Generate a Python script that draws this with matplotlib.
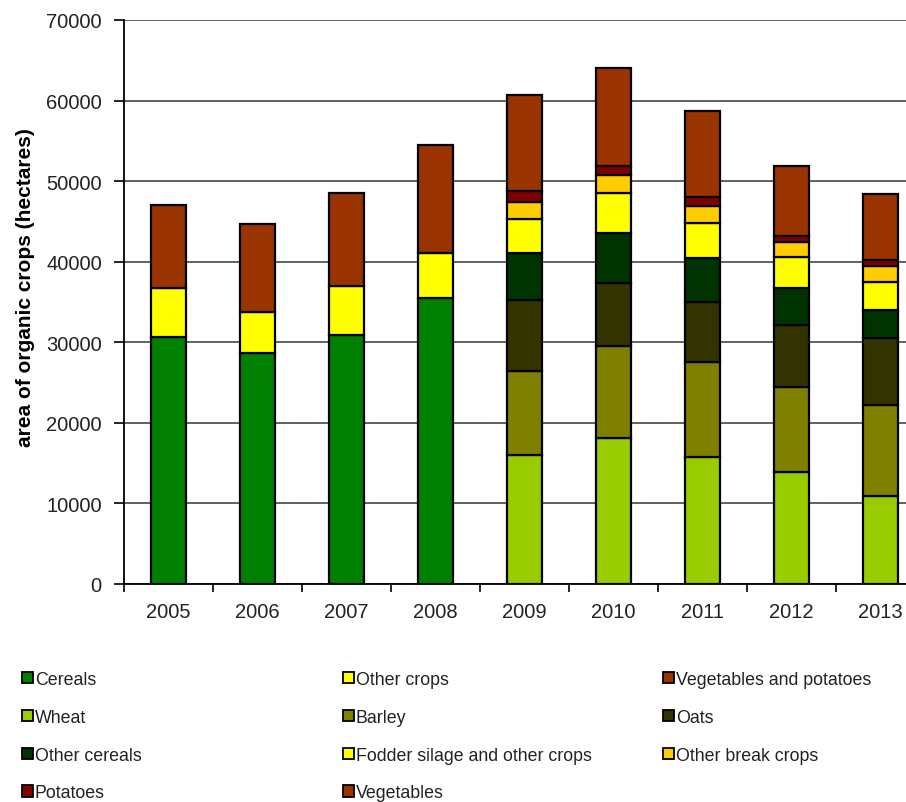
import matplotlib
matplotlib.use("Agg")
import matplotlib.pyplot as plt
from matplotlib.patches import Patch
import numpy as np

plt.rcParams['font.family'] = ['Liberation Sans', 'DejaVu Sans']

years = ["2005", "2006", "2007", "2008", "2009", "2010", "2011", "2012", "2013"]

# 2005-2008: broad categories
cereals = [30650, 28670, 30940, 35460, 0, 0, 0, 0, 0]
other_crops = [6050, 5130, 6050, 5620, 0, 0, 0, 0, 0]
veg_and_potatoes = [10380, 10880, 11500, 13410, 0, 0, 0, 0, 0]

# 2009-2013: detailed categories
wheat = [0, 0, 0, 0, 16050, 18120, 15720, 13860, 10960]
barley = [0, 0, 0, 0, 10350, 11460, 11800, 10630, 11260]
oats = [0, 0, 0, 0, 8890, 7740, 7440, 7610, 8270]
other_cereals = [0, 0, 0, 0, 5750, 6250, 5460, 4600, 3560]
fodder = [0, 0, 0, 0, 4260, 4920, 4390, 3840, 3470]
other_break = [0, 0, 0, 0, 2070, 2310, 2070, 1860, 1910]
potatoes = [0, 0, 0, 0, 1440, 1040, 1150, 830, 740]
vegetables = [0, 0, 0, 0, 11920, 12200, 10720, 8690, 8230]

series = [
    ("Cereals", cereals, "#008000"),
    ("Other crops", other_crops, "#FFFF00"),
    ("Vegetables and potatoes", veg_and_potatoes, "#993300"),
    ("Wheat", wheat, "#99CC00"),
    ("Barley", barley, "#808000"),
    ("Oats", oats, "#333300"),
    ("Other cereals", other_cereals, "#003300"),
    ("Fodder silage and other crops", fodder, "#FFFF00"),
    ("Other break crops", other_break, "#FFCC00"),
    ("Potatoes", potatoes, "#800000"),
    ("Vegetables", vegetables, "#993300"),
]

fig = plt.figure(figsize=(9.06, 8.03), dpi=100)
ax = fig.add_axes([124 / 906, 218 / 803, 801 / 906, 564 / 803])

x = np.arange(len(years))
bottom = np.zeros(len(years))
handles = {}
for name, vals, col in series:
    v = np.array(vals, dtype=float)
    mask = v > 0
    ax.bar(x[mask], v[mask], bottom=bottom[mask], width=0.39, color=col,
           edgecolor="black", linewidth=1.6, zorder=3)
    bottom += v
    handles[name] = Patch(facecolor=col, edgecolor="black", linewidth=1.3)

ax.set_xlim(-0.5, len(years) - 0.5)
ax.set_ylim(0, 70000)
ax.set_yticks(np.arange(0, 70001, 10000))
ax.yaxis.grid(True, color="#555555", linewidth=1.3, zorder=0)
ax.set_axisbelow(True)

for s in ["top", "right"]:
    ax.spines[s].set_visible(False)
for s in ["left", "bottom"]:
    ax.spines[s].set_color("black")
    ax.spines[s].set_linewidth(1.3)

ax.set_xticks(x)
ax.set_xticklabels(years)
ax.set_xticks(np.arange(-0.5, len(years), 1.0), minor=True)
ax.tick_params(axis="x", which="major", length=0, pad=13, labelsize=14.5, colors="#222222")
ax.tick_params(axis="x", which="minor", length=6, width=1.2, direction="out", color="black")
ax.tick_params(axis="y", length=7, width=1.2, pad=9, labelsize=14.5, labelcolor="#222222")

ax.set_ylabel("area of organic crops (hectares)", fontsize=15, fontweight="bold",
              va="center")
ax.yaxis.set_label_coords(-98 / 801, (585 - 288) / 564)

# legend laid out in three columns, filled row by row
columns = [
    ["Cereals", "Wheat", "Other cereals", "Potatoes"],
    ["Other crops", "Barley", "Fodder silage and other crops", "Vegetables"],
    ["Vegetables and potatoes", "Oats", "Other break crops"],
]
col_x = [22 / 906, 343 / 906, 663 / 906]
for cx, names in zip(col_x, columns):
    leg = fig.legend([handles[n] for n in names], names, loc="upper left",
                     bbox_to_anchor=(cx, 1 - 672 / 803), frameon=False,
                     fontsize=12.8, handlelength=0.6, handleheight=0.6,
                     handletextpad=0.12, labelspacing=1.17, borderpad=0,
                     borderaxespad=0)
    for t in leg.get_texts():
        t.set_color("#222222")

fig.savefig("out.png", dpi=100)
